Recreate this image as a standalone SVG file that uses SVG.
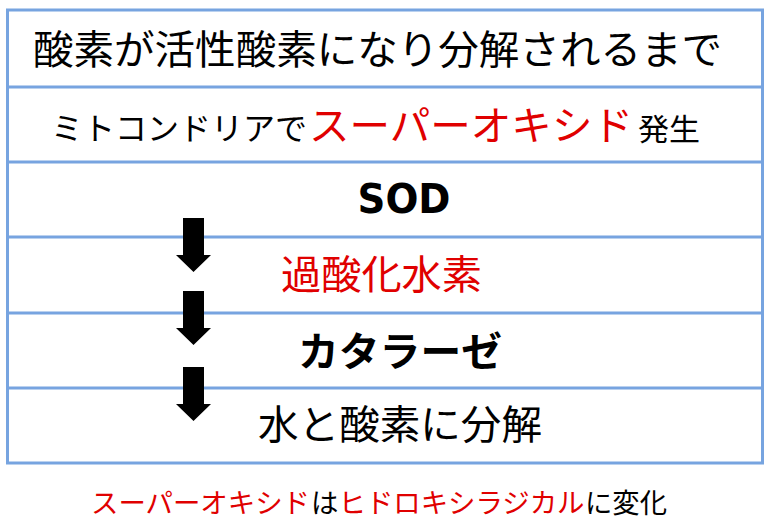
<svg xmlns="http://www.w3.org/2000/svg" xmlns:xlink="http://www.w3.org/1999/xlink" width="774" height="529" viewBox="0 0 774 529">
<style>
.grid{fill:none;stroke:#77a4e0;stroke-width:3}
.t{font-family:"Noto Sans CJK JP","Noto Sans",sans-serif;fill:#000}
.r{fill:#e00000}
.b{font-weight:bold}
.arrow{fill:#000}
</style>
<defs>
<path id="arr" d="M-11,0 H10 V37 H17 L-0.5,54 L-18,37 H-11 Z"/>
</defs>
<rect width="774" height="529" fill="#fff"/>
<g id="table">
<rect class="grid" x="7.5" y="10" width="755" height="453"/>
<line class="grid" x1="7.5" y1="87" x2="762.5" y2="87"/>
<line class="grid" x1="7.5" y1="162" x2="762.5" y2="162"/>
<line class="grid" x1="7.5" y1="237" x2="762.5" y2="237"/>
<line class="grid" x1="7.5" y1="313" x2="762.5" y2="313"/>
<line class="grid" x1="7.5" y1="388" x2="762.5" y2="388"/>
</g>
<g id="row-title"><text class="t" x="33" y="64" font-size="40" textLength="689" lengthAdjust="spacingAndGlyphs">酸素が活性酸素になり分解されるまで</text></g>
<g id="row-mitochondria">
<text class="t" x="51" y="140" font-size="31.5" textLength="256" lengthAdjust="spacingAndGlyphs">ミトコンドリアで</text>
<text class="t r" x="309" y="140" font-size="40" textLength="324" lengthAdjust="spacingAndGlyphs">スーパーオキシド</text>
<text class="t" x="638" y="140" font-size="30" textLength="62" lengthAdjust="spacingAndGlyphs">発生</text>
</g>
<g id="row-sod"><text x="404" y="213" font-family="DejaVu Sans" font-weight="bold" font-size="40" text-anchor="middle" textLength="93" lengthAdjust="spacingAndGlyphs">SOD</text></g>
<g id="row-h2o2"><text class="t r" x="281" y="289" font-size="40" textLength="201" lengthAdjust="spacingAndGlyphs">過酸化水素</text></g>
<g id="row-catalase"><text class="t b" x="298" y="366" font-size="40" textLength="204" lengthAdjust="spacingAndGlyphs">カタラーゼ</text></g>
<g id="row-decomp"><text class="t" x="258" y="439" font-size="40" textLength="284" lengthAdjust="spacingAndGlyphs">水と酸素に分解</text></g>
<g id="connectors">
<use xlink:href="#arr" class="arrow" x="194" y="218"/>
<use xlink:href="#arr" class="arrow" x="194" y="291"/>
<use xlink:href="#arr" class="arrow" x="194" y="367"/>
</g>
<g id="note">
<text class="t r" x="91" y="513" font-size="27.4" textLength="219" lengthAdjust="spacingAndGlyphs">スーパーオキシド</text>
<text class="t" x="311" y="513" font-size="27.4">は</text>
<text class="t r" x="338.5" y="513" font-size="27.4" textLength="246" lengthAdjust="spacingAndGlyphs">ヒドロキシラジカル</text>
<text class="t" x="585" y="513" font-size="27.4" textLength="82" lengthAdjust="spacingAndGlyphs">に変化</text>
</g>
</svg>
